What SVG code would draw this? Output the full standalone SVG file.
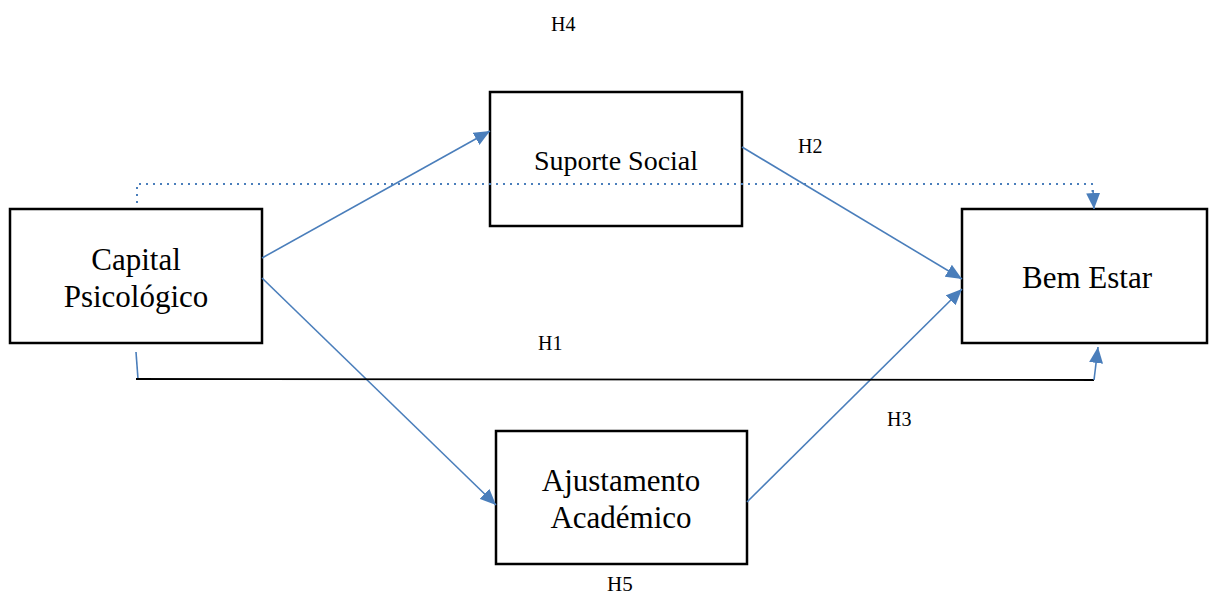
<svg xmlns="http://www.w3.org/2000/svg" width="1209" height="597" viewBox="0 0 1209 597">
<defs>
<style>
.box{fill:#fff;stroke:#000;stroke-width:2.5}
.lbl{font-family:"Liberation Serif","Times New Roman",serif;fill:#000;text-anchor:middle}
.big{font-size:31px}
.mid{font-size:28px}
.h{font-family:"Liberation Serif","Times New Roman",serif;font-size:20px;fill:#000}
.con{fill:none;stroke:#4a7ebb;stroke-width:1.6}
.dot{fill:none;stroke:#4a7ebb;stroke-width:2;stroke-dasharray:2 5}
</style>
<marker id="arr" markerUnits="userSpaceOnUse" markerWidth="17" markerHeight="14" refX="16" refY="7" orient="auto" viewBox="0 0 17 14">
<path d="M0,0 L16,7 L0,14 z" fill="#4a7ebb"/>
</marker>
</defs>
<rect width="1209" height="597" fill="#fff"/>
<g id="capital">
<rect class="box" x="10" y="209" width="252" height="134"/>
<text class="lbl big" x="136" y="270">Capital</text>
<text class="lbl big" x="136" y="307">Psicológico</text>
</g>
<g id="suporte">
<rect class="box" x="490" y="92" width="252" height="134"/>
<text class="lbl mid" x="616" y="170">Suporte Social</text>
</g>
<g id="bemestar">
<rect class="box" x="962" y="209" width="245" height="134"/>
<text class="lbl big" x="1087" y="288">Bem Estar</text>
</g>
<g id="ajustamento">
<rect class="box" x="496" y="431" width="251" height="133"/>
<text class="lbl big" x="621" y="491">Ajustamento</text>
<text class="lbl big" x="621" y="528">Académico</text>
</g>
<g id="connectors">
<line class="con" x1="262" y1="258" x2="490" y2="131" marker-end="url(#arr)"/>
<line class="con" x1="262" y1="278" x2="496" y2="505" marker-end="url(#arr)"/>
<line class="con" x1="742" y1="147" x2="962" y2="279" marker-end="url(#arr)"/>
<line class="con" x1="747" y1="502" x2="962" y2="289" marker-end="url(#arr)"/>
<path class="dot" d="M137,203 L137,184 L1092,184 L1093,196"/>
<line class="con" x1="1093" y1="190" x2="1094" y2="209" marker-end="url(#arr)" stroke-width="0"/>
<line class="con" x1="136" y1="352" x2="138" y2="379"/>
<line x1="136" y1="379" x2="1094" y2="380" stroke="#000" stroke-width="1.8"/>
<line class="con" x1="1094" y1="380" x2="1098" y2="347" marker-end="url(#arr)"/>
</g>
<g id="labels">
<text class="h" x="551" y="31">H4</text>
<text class="h" x="798" y="153">H2</text>
<text class="h" x="538" y="350">H1</text>
<text class="h" x="887" y="426">H3</text>
<text class="h" x="607" y="591" style="font-size:21px">H5</text>
</g>
</svg>
